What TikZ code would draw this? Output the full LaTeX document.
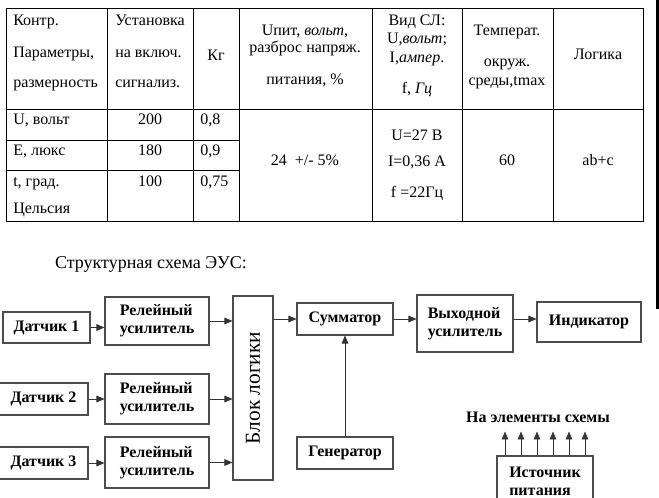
\documentclass[tikz,border=0pt]{standalone}
\usepackage{fontspec}
\setmainfont{Liberation Serif}
\usetikzlibrary{arrows.meta,positioning}

\tikzset{
  txt/.style={anchor=base, inner sep=0pt, font=\fontsize{12}{14}\selectfont},
  ltxt/.style={txt, anchor=base west},
  blk/.style={draw=black!70, line width=0.8pt, align=left, inner sep=0pt,
    font=\fontsize{12}{13.5}\selectfont\bfseries},
  arr/.style={-{Triangle[length=6pt,width=5pt]}, line width=0.6pt, black!80},
  grid/.style={line width=0.7pt}
}

\begin{document}
\begin{tikzpicture}[x=0.75pt,y=-0.75pt]
  \useasboundingbox (0,0) rectangle (659,497);
  \clip (0,0) rectangle (659,497);

  \draw[grid] (6,8) rectangle (643,221);
  \draw[grid] (6,109) -- (643,109);
  \draw[grid] (6,140) -- (239,140) (6,170) -- (239,170);
  \foreach \x in {107,193,239,372,462,553}
    \draw[grid] (\x,8) -- (\x,221);
  \fill (656,0) rectangle (659,309);

  \node[ltxt] (h11) at (13,25) {Контр.};
  \node[ltxt] (h12) at (13,57) {Параметры,};
  \node[ltxt] (h13) at (13,87) {размерность};
  \node[ltxt] (h21) at (115,25) {Установка};
  \node[ltxt] (h22) at (115,57) {на включ.};
  \node[ltxt] (h23) at (115,87) {сигнализ.};
  \node[txt] (h3) at (216,60) {Кг};
  \node[txt] (h41) at (305,35) {Uпит, \textit{вольт},};
  \node[txt] (h42) at (305,52) {разброс напряж.};
  \node[txt] (h43) at (305,84) {питания, \%};
  \node[txt] (h51) at (417,25) {Вид СЛ:};
  \node[txt] (h52) at (417,43) {U,\textit{вольт};};
  \node[txt] (h53) at (417,62) {I,\textit{ампер}.};
  \node[txt] (h54) at (417,93) {f, \textit{Гц}};
  \node[txt] (h61) at (507,35) {Температ.};
  \node[txt] (h62) at (507,66) {окруж.};
  \node[txt] (h63) at (507,85) {среды,tmax};
  \node[txt] (h7) at (598,59) {Логика};

  \node[ltxt] (r11) at (13,124) {U, вольт};
  \node[ltxt] (r21) at (13,155) {E, люкс};
  \node[ltxt] (r31) at (13,186) {t, град.};
  \node[ltxt] (r32) at (13,213) {Цельсия};
  \node[txt] (r12) at (150,124) {200};
  \node[txt] (r22) at (150,155) {180};
  \node[txt] (r33) at (150,186) {100};
  \node[ltxt] (r13) at (200,124) {0,8};
  \node[ltxt] (r23) at (200,155) {0,9};
  \node[ltxt] (r34) at (200,186) {0,75};
  \node[txt] (upit) at (305,165) {24~ +/- 5\%};
  \node[txt] (sl1) at (417,140) {U=27 В};
  \node[txt] (sl2) at (417,166) {I=0,36 А};
  \node[txt] (sl3) at (417,197) {f =22Гц};
  \node[txt] (tmax) at (507,165) {60};
  \node[txt] (logf) at (598,165) {ab+c};

  \node[txt, font=\fontsize{13.5}{15}\selectfont] (title) at (151,268) {Структурная схема ЭУС:};

  \node[blk, minimum width=87*0.75pt, minimum height=31*0.75pt] (d1) at (46.5,327.5) {Датчик 1};
  \node[blk, minimum width=89*0.75pt, minimum height=32*0.75pt] (d2) at (43.5,399) {Датчик 2};
  \node[blk, minimum width=89*0.75pt, minimum height=32*0.75pt] (d3) at (43.5,463) {Датчик 3};
  \node[blk, minimum width=104*0.75pt, minimum height=48*0.75pt] (rel1) at (157,321) {Релейный\\усилитель};
  \node[blk, minimum width=104*0.75pt, minimum height=50*0.75pt] (rel2) at (157,399) {Релейный\\усилитель};
  \node[blk, minimum width=104*0.75pt, minimum height=51*0.75pt] (rel3) at (157,462.5) {Релейный\\усилитель};
  \node[blk, minimum width=184*0.75pt, minimum height=40*0.75pt, rotate=90,
    font=\fontsize{16}{18}\selectfont] (logic) at (253,388) {Блок логики};
  \node[blk, minimum width=96*0.75pt, minimum height=32*0.75pt] (sum) at (345,319) {Сумматор};
  \node[blk, minimum width=96*0.75pt, minimum height=57*0.75pt] (out) at (465,323.5) {Выходной\\усилитель};
  \node[blk, minimum width=104*0.75pt, minimum height=40*0.75pt] (ind) at (589,322) {Индикатор};
  \node[blk, minimum width=96*0.75pt, minimum height=32*0.75pt] (gen) at (345,453) {Генератор};
  \node[blk, minimum width=96*0.75pt, minimum height=50*0.75pt] (src) at (545,481) {Источник\\питания};
  \node[txt, font=\fontsize{12}{14}\selectfont\bfseries] (elem) at (538,422) {На элементы схемы};

  \foreach \a/\b in {d1/rel1, d2/rel2, d3/rel3}
    \draw[arr] (\a.east) -- (\a.east -| \b.west);
  \foreach \a in {rel1, rel2, rel3}
    \draw[arr] (\a.east) -- (\a.east -| logic.north);
  \draw[arr] (sum.west -| logic.south) -- (sum.west);
  \draw[arr] (sum.east) -- (sum.east -| out.west);
  \draw[arr] (out.east |- sum.east) -- (ind.west |- sum.east);
  \draw[arr] (gen.north) -- (sum.south);
  \foreach \i in {-40,-24,-8,8,24,40}
    \draw[arr] ([xshift=\i*0.75pt]src.north) -- ++(0,-24);
\end{tikzpicture}
\end{document}
